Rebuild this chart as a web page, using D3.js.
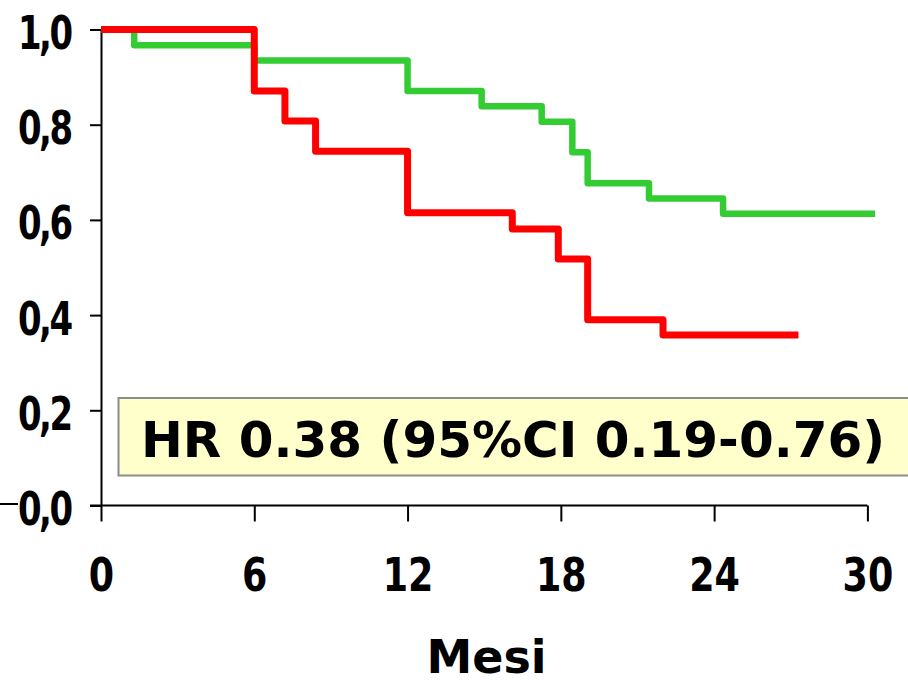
<!DOCTYPE html>
<html>
<head>
<meta charset="utf-8">
<script src="https://cdn.jsdelivr.net/npm/d3@7"></script>
<style>
  body { margin: 0; background: #fff; }
  svg { display: block; }
</style>
</head>
<body>
<svg id="canvas" width="908" height="683"></svg>
<script>
// curve rosse e verdi (mesi, sopravvivenza)
let redTimes = [0, 6, 7.2, 8.4, 12, 16.1, 17.9, 19.05, 22]
let redValues = [1, 0.871, 0.808, 0.744, 0.615, 0.581, 0.518, 0.390, 0.358]
let redEnd = 27.3

let greenTimes = [0, 1.3, 6, 12, 14.9, 17.25, 18.45, 19.05, 21.45, 24.35]
let greenValues = [1, 0.967, 0.935, 0.871, 0.839, 0.806, 0.742, 0.677, 0.645, 0.613]
let greenEnd = 30.3

let xTicks = [0, 6, 12, 18, 24, 30]
let yTicks = [0, 0.2, 0.4, 0.6, 0.8, 1.0]
let hrLabel = 'HR 0.38 (95%CI 0.19-0.76)'
let xTitle = 'Mesi'

let canvas = d3.select('#canvas')

let xScale = d3.scaleLinear().domain([0, 30]).range([101, 867.4])
let yScale = d3.scaleLinear().domain([0, 1]).range([505.5, 29.5])

let tickFont = "'DejaVu Sans Condensed', 'DejaVu Sans', sans-serif"

// asse y
let yAxis = canvas.append('g')
    .attr('transform', 'translate(101,0)')
    .call(d3.axisLeft(yScale).tickValues(yTicks).tickSize(11).tickSizeOuter(0)
        .tickFormat(d => d3.format('.1f')(d).replace('.', ',')))
yAxis.select('.domain').attr('stroke', '#000').attr('stroke-width', 2)
yAxis.selectAll('.tick line').attr('stroke', '#000').attr('stroke-width', 2)
yAxis.selectAll('.tick text')
    .attr('x', -37)
    .attr('dy', 19)
    .attr('transform', 'scale(0.82,1)')
    .style('font-family', tickFont)
    .style('font-stretch', 'condensed')
    .style('font-weight', 'bold')
    .style('font-size', '46px')
    .style('letter-spacing', '-3px')
    .attr('fill', '#000')

// asse x
let xAxis = canvas.append('g')
    .attr('transform', 'translate(0,505.5)')
    .call(d3.axisBottom(xScale).tickValues(xTicks).tickSize(16).tickSizeOuter(0))
xAxis.select('.domain').attr('stroke', '#000').attr('stroke-width', 2)
    .attr('d', 'M90,0H' + xScale(30))
xAxis.selectAll('.tick line').attr('stroke', '#000').attr('stroke-width', 2)
xAxis.selectAll('.tick text')
    .attr('y', 86)
    .attr('dy', 0)
    .attr('transform', 'scale(0.88,1)')
    .attr('x', 0)
    .style('font-family', tickFont)
    .style('font-stretch', 'condensed')
    .style('font-weight', 'bold')
    .style('font-size', '46px')
    .attr('fill', '#000')
// piccolo segmento a sinistra
canvas.append('line')
    .attr('x1', 0).attr('x2', 18)
    .attr('y1', 504).attr('y2', 504)
    .attr('stroke', '#000').attr('stroke-width', 2)

// curve a gradini
let stepLine = (times, values, end) => {
    let pts = times.map((t, i) => [t, values[i]])
    pts.push([end, values[values.length - 1]])
    return d3.line()
        .x(d => xScale(d[0]))
        .y(d => yScale(d[1]))
        .curve(d3.curveStepAfter)(pts)
}

canvas.append('path')
    .attr('d', stepLine(greenTimes, greenValues, greenEnd))
    .attr('fill', 'none')
    .attr('stroke', '#33cc33')
    .attr('stroke-width', 6.5)
    .attr('stroke-linejoin', 'round')

canvas.append('path')
    .attr('d', stepLine(redTimes, redValues, redEnd))
    .attr('fill', 'none')
    .attr('stroke', '#ff0000')
    .attr('stroke-width', 7)
    .attr('stroke-linejoin', 'round')

// box HR
canvas.append('rect')
    .attr('x', 118.5).attr('y', 398)
    .attr('width', 820).attr('height', 77.5)
    .attr('fill', '#ffffcc')
    .attr('stroke', '#8c8c8c')
    .attr('stroke-width', 2)

canvas.append('text')
    .attr('x', 141).attr('y', 456.5)
    .style('font-family', "'DejaVu Sans', sans-serif")
    .style('font-weight', 'bold')
    .style('font-size', '50px')
    .attr('fill', '#000')
    .text(hrLabel)

canvas.append('text')
    .attr('x', 486.5).attr('y', 673)
    .attr('text-anchor', 'middle')
    .style('font-family', "'DejaVu Sans', sans-serif")
    .style('font-weight', 'bold')
    .style('font-size', '46px')
    .attr('fill', '#000')
    .text(xTitle)
</script>
</body>
</html>
